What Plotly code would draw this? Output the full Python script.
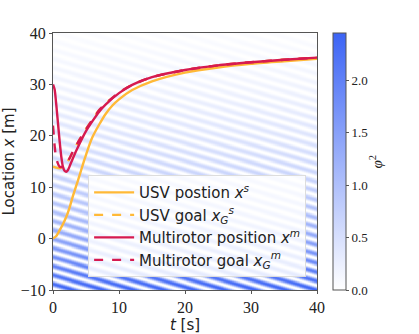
import numpy as np
import plotly.graph_objects as go

# ---- line data ----
t_usv = [0, 0.5, 1, 1.5, 2, 2.5, 3, 3.5, 4, 4.5, 5, 5.5, 6, 7, 8, 9, 10, 12, 15, 20, 25, 30, 35, 40]
x_usv = [0, 0.5, 1.6, 2.8, 4.2, 6.0, 8.2, 10.2, 12.2, 14.3, 16.3, 18.2, 19.8, 22.2, 24.3, 25.9, 27.1, 28.9, 30.6, 32.3, 33.3, 34.0, 34.5, 35.0]

t_goal = [0, 0.25, 0.5, 1, 1.5, 2, 2.5, 3, 4, 5, 6, 7, 8, 10, 12, 15, 20, 25, 30, 35, 40]
x_usv_goal = [14.0, 13.9, 13.8, 13.7, 14.0, 14.6, 15.6, 16.9, 19.2, 21.3, 23.2, 25.0, 26.3, 28.4, 29.9, 31.4, 32.8, 33.7, 34.3, 34.8, 35.2]
x_mr_goal = [22.0, 18.0, 15.5, 14.0, 14.0, 14.6, 15.6, 16.9, 19.2, 21.3, 23.2, 25.0, 26.3, 28.4, 29.9, 31.4, 32.8, 33.7, 34.3, 34.8, 35.2]

t_mr = [0, 0.25, 0.5, 0.75, 1, 1.25, 1.5, 1.75, 2, 2.25, 2.5, 3, 4, 5, 6, 7, 8, 10, 12, 15, 20, 25, 30, 35, 40]
x_mr = [30.0, 29.0, 26.0, 22.5, 19.0, 16.0, 14.0, 13.2, 13.0, 13.3, 14.0, 15.6, 18.4, 20.9, 22.9, 24.7, 26.1, 28.3, 29.9, 31.4, 32.8, 33.7, 34.3, 34.8, 35.2]

# ---- background field phi^2 (stripe texture) ----
env_y = [-10, -5, 0, 5, 10, 20, 30, 40]
env_amp = [2.45, 1.9, 1.4, 1.0, 0.75, 0.42, 0.18, 0.05]
stripe_period = 1.75  # m (vertical)
stripe_slope = 0.38   # m/s
phi_max = 2.45

tg = np.linspace(0, 40, 401)
yg = np.linspace(-10, 40, 501)
T, Y = np.meshgrid(tg, yg)
amp = np.interp(Y, env_y, env_amp)
Z = amp * np.cos(np.pi * (Y + stripe_slope * T) / stripe_period) ** 2

ORANGE = "rgb(255,185,55)"
CRIMSON = "rgb(214,26,80)"
SERIF = "Liberation Serif, Times New Roman, serif"
SANS = "DejaVu Sans, sans-serif"

fig = go.Figure()
fig.add_trace(go.Heatmap(
    x=tg, y=yg, z=Z, zmin=0, zmax=phi_max,
    colorscale=[[0, "rgb(255,255,255)"], [1, "rgb(60,100,245)"]],
    showscale=True, hoverinfo="skip",
    colorbar=dict(
        x=1.06, xanchor="left", xpad=0, ypad=0, y=0, yanchor="bottom", len=1, lenmode="fraction",
        thickness=13, outlinewidth=1, outlinecolor="#555",
        tickvals=[0, 0.5, 1.0, 1.5, 2.0], ticktext=["0.0", "0.5", "1.0", "1.5", "2.0"],
        ticks="outside", ticklen=3, tickcolor="#555",
        tickfont=dict(family=SERIF, size=13, color="#222"),
    ),
))

def line(x, y, color, dash, name):
    fig.add_trace(go.Scatter(x=x, y=y, mode="lines", name=name,
                             line=dict(color=color, width=2.4, dash=dash, shape="spline", smoothing=0.6)))

line(t_usv, x_usv, ORANGE, "solid", "USV postion <i>x</i><sup><i>s</i></sup>")
line(t_goal, x_usv_goal, ORANGE, "dash", "USV goal <i>x</i><sub><i>G</i></sub><sup><i>s</i></sup>")
line(t_mr, x_mr, CRIMSON, "solid", "Multirotor position <i>x</i><sup><i>m</i></sup>")
line(t_goal, x_mr_goal, CRIMSON, "dash", "Multirotor goal <i>x</i><sub><i>G</i></sub><sup><i>m</i></sup>")

axis_common = dict(showgrid=False, zeroline=False, showline=True, linecolor="#555", linewidth=1,
                   mirror=True, ticks="outside", ticklen=3, tickcolor="#555", automargin=False,
                   tickfont=dict(family=SERIF, size=16, color="#222"))

fig.update_layout(
    width=419, height=334,
    margin=dict(l=53, r=102, t=33, b=44),
    paper_bgcolor="white", plot_bgcolor="white",
    xaxis=dict(range=[0, 40], tickvals=[0, 10, 20, 30, 40],
               title=dict(text="<i>t</i> [s]", standoff=0,
                          font=dict(family=SANS, size=15, color="#222")),
               **axis_common),
    yaxis=dict(range=[-10, 40], tickvals=[-10, 0, 10, 20, 30, 40],
               ticktext=["\u221210", "0", "10", "20", "30", "40"],
               title=dict(text="Location <i>x</i> [m]", standoff=2,
                          font=dict(family=SANS, size=15, color="#222")),
               **axis_common),
    legend=dict(x=0.133, y=0.447, xanchor="left", yanchor="top",
                bgcolor="rgba(255,255,255,0.85)", bordercolor="#ddd", borderwidth=1,
                font=dict(family=SANS, size=15, color="#222"),
                tracegroupgap=0, itemwidth=40),
    showlegend=True,
    annotations=[dict(text="<i>φ</i><sup>2</sup>", xref="paper", yref="paper",
                      x=1.22, y=0.5, xanchor="center", yanchor="middle", showarrow=False,
                      textangle=-90, font=dict(family=SERIF, size=15, color="#222"))],
)

fig.write_html("out.html", config={"displayModeBar": False},
               post_script="document.body.style.margin='0px';")
